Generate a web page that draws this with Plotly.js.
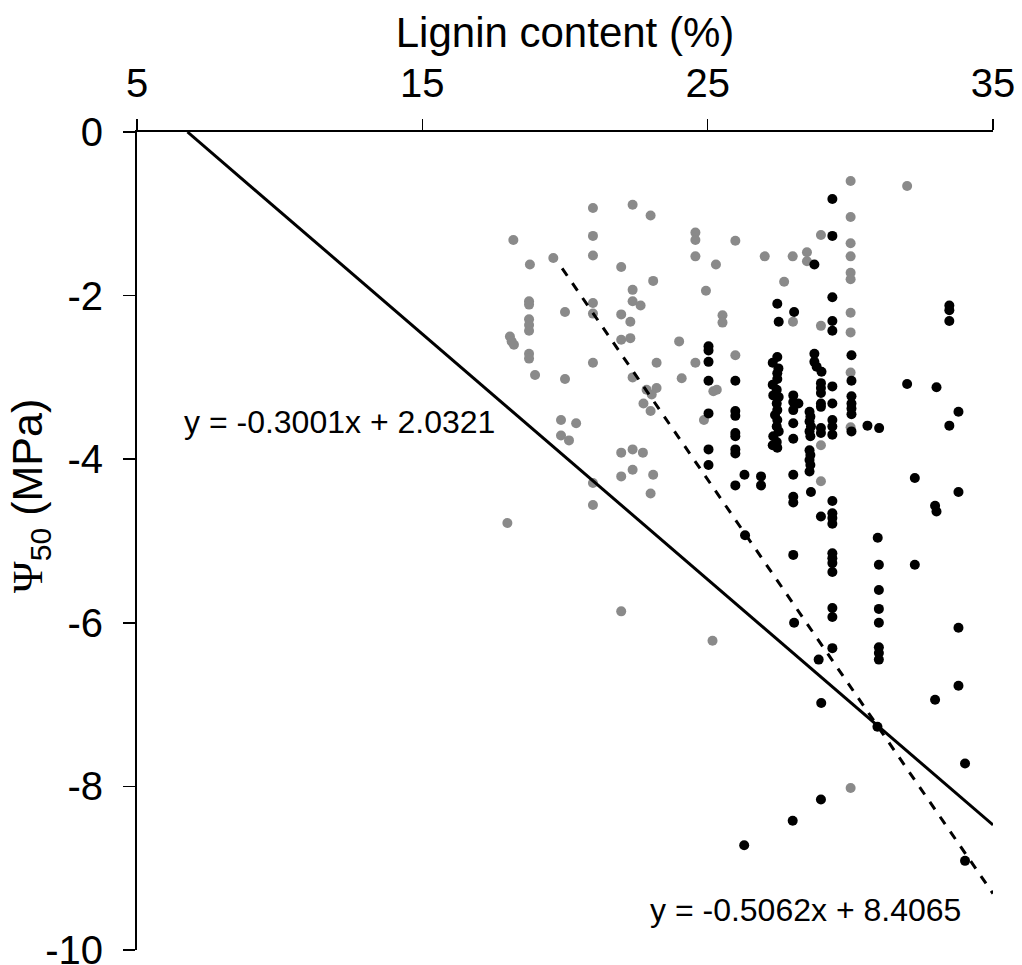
<!DOCTYPE html>
<html><head><meta charset="utf-8">
<script src="https://cdn.plot.ly/plotly-3.0.1.min.js"></script>
<style>html,body{margin:0;padding:0;background:#fff;}#chart{width:1022px;height:965px;}</style>
</head><body><div id="chart"></div>
<script>
// Group 1 (grey points)
const greyX = [20.98,22.37,23.0,18.19,20.98,20.98,19.59,18.77,21.97,23.09,22.37,22.37,22.65,20.98,18.74,18.74,20.0,20.98,21.97,22.29,18.74,18.74,18.74,18.07,18.13,18.21,21.97,22.29,18.74,18.74,20.98,23.21,18.95,20.0,22.37,23.21,22.86,23.04,22.75,23.0,19.86,20.39,19.86,20.14,21.97,22.37,22.73,21.97,22.37,23.09,23.0,20.98,20.98,17.98,21.97,25.17,24.57,24.57,25.97,24.57,25.29,27.0,27.98,28.48,28.48,28.97,24.94,27.68,25.52,25.52,27.99,28.97,24.0,25.97,24.57,24.09,25.2,25.32,24.87,28.97,28.97,30.01,31.99,30.01,30.01,30.01,30.01,30.01,30.01,30.01,30.01,30.01,30.01];
const greyY = [-0.93,-0.89,-1.02,-1.32,-1.27,-1.51,-1.54,-1.62,-1.65,-1.82,-1.93,-2.07,-2.12,-2.09,-2.07,-2.11,-2.20,-2.22,-2.23,-2.32,-2.29,-2.36,-2.43,-2.50,-2.56,-2.60,-2.54,-2.52,-2.71,-2.77,-2.82,-2.82,-2.97,-3.02,-3.0,-3.13,-3.15,-3.21,-3.32,-3.41,-3.52,-3.56,-3.71,-3.77,-3.92,-3.88,-3.92,-4.21,-4.13,-4.19,-4.42,-4.29,-4.56,-4.78,-5.86,-6.22,-1.23,-1.32,-1.33,-1.52,-1.62,-1.52,-1.52,-1.47,-1.58,-1.26,-1.94,-1.83,-2.24,-2.33,-2.32,-2.37,-2.56,-2.73,-2.82,-3.01,-3.17,-3.15,-3.52,-3.83,-4.27,-0.60,-0.66,-1.04,-1.36,-1.52,-1.72,-1.80,-2.21,-2.45,-2.94,-3.61,-8.02];
// Group 2 (black points)
const blackX = [29.37,29.37,28.74,29.37,27.44,28.03,27.49,29.37,29.37,25.03,25.03,25.03,28.74,28.74,28.82,28.99,25.03,25.97,25.03,25.97,25.97,25.97,25.97,25.97,25.97,25.03,25.03,26.29,25.97,26.87,26.87,27.44,27.28,27.48,27.44,27.44,27.28,27.42,27.3,27.49,27.42,27.44,27.36,27.44,27.42,27.49,27.3,27.42,27.28,27.44,28.0,28.0,28.18,28.0,28.0,28.0,28.0,28.0,28.0,28.57,28.6,28.57,28.62,28.57,28.6,28.57,28.6,28.57,28.6,28.57,28.62,28.97,28.97,28.97,28.97,28.97,28.97,28.97,28.97,29.37,29.37,29.37,29.37,29.37,29.37,29.37,29.37,29.37,29.37,29.37,29.37,29.37,29.37,29.37,29.37,30.04,30.04,30.04,30.04,30.04,30.04,30.04,30.6,31.01,31.99,33.02,33.79,33.47,33.47,33.47,33.47,32.26,33.79,32.97,33.02,30.96,31.0,32.26,31.0,31.0,31.0,33.79,31.0,31.0,31.0,33.79,32.97,30.95,34.02,28.97,27.98,26.28,34.02,26.31,28.0,28.03,28.89,28.98];
const blackY = [-0.82,-1.27,-1.62,-2.02,-2.10,-2.20,-2.32,-2.31,-2.43,-2.62,-2.67,-2.81,-2.71,-2.81,-2.87,-2.93,-3.04,-3.04,-3.44,-3.41,-3.47,-3.68,-3.72,-3.88,-3.93,-3.88,-4.07,-4.19,-4.32,-4.21,-4.32,-2.75,-2.82,-2.89,-2.95,-3.02,-3.09,-3.15,-3.22,-3.24,-3.32,-3.40,-3.46,-3.52,-3.60,-3.66,-3.72,-3.79,-3.83,-3.86,-3.22,-3.30,-3.32,-3.40,-3.56,-3.75,-4.19,-4.46,-4.53,-3.42,-3.48,-3.54,-3.60,-3.66,-3.72,-3.89,-3.95,-4.01,-4.07,-4.15,-4.40,-3.07,-3.13,-3.19,-3.32,-3.36,-3.62,-3.68,-4.70,-3.11,-3.32,-3.52,-3.60,-3.70,-4.51,-4.66,-4.72,-4.79,-5.15,-5.21,-5.27,-5.38,-5.82,-5.93,-6.31,-2.73,-3.04,-3.23,-3.32,-3.38,-3.45,-3.66,-3.59,-3.62,-3.08,-3.12,-3.42,-3.59,-2.12,-2.18,-2.31,-4.23,-4.40,-4.57,-4.64,-4.96,-5.29,-5.29,-5.60,-5.83,-6.0,-6.06,-6.30,-6.37,-6.45,-6.77,-6.94,-7.27,-7.72,-8.16,-8.42,-8.72,-8.91,-4.93,-5.17,-6.0,-6.45,-6.98];
// Fitted lines
const fitAll = {slope: -0.3001, intercept: 2.0321, xStart: 6.77, xEnd: 35};
const fitBlack = {slope: -0.5062, intercept: 8.4065, xStart: 19.9, xEnd: 35};
const eqAll = "y = -0.3001x + 2.0321";
const eqBlack = "y = -0.5062x + 8.4065";
const xTicks = [5, 15, 25, 35];
const yTicks = [0, -2, -4, -6, -8, -10];
const yTickText = ["0", "-2", "-4", "-6", "-8", "-10"];

function lineXY(f){ const xs=[f.xStart,f.xEnd]; return {x: xs, y: xs.map(v=>f.slope*v+f.intercept)}; }
const la = lineXY(fitAll), lb = lineXY(fitBlack);

const FONT = 'Arial, "Liberation Sans", sans-serif';
const traces = [
  {x: greyX, y: greyY, type:'scatter', mode:'markers', marker:{color:'#8a8a8a', size:10}, hoverinfo:'skip'},
  {x: blackX, y: blackY, type:'scatter', mode:'markers', marker:{color:'#000000', size:10}, hoverinfo:'skip'},
  {x: la.x, y: la.y, type:'scatter', mode:'lines', line:{color:'#000', width:3}},
  {x: lb.x, y: lb.y, type:'scatter', mode:'lines', line:{color:'#000', width:3, dash:'dash'}}
];
const layout = {
  width:1022, height:965, showlegend:false,
  paper_bgcolor:'#fff', plot_bgcolor:'#fff',
  margin:{l:137, r:29, t:132, b:15},
  font:{family:FONT, color:'#000'},
  xaxis:{side:'top', range:[5,35], tickvals:xTicks, ticks:'outside', ticklen:11, tickwidth:1.5, tickcolor:'#000',
    showline:true, linecolor:'#000', linewidth:2, showgrid:false, zeroline:false, ticklabelstandoff:6,
    tickfont:{size:40, family:FONT}, title:{text:'Lignin content (%)', font:{size:42, family:FONT}, standoff:0}},
  yaxis:{range:[-10,0], tickvals:yTicks, ticktext:yTickText, ticks:'outside', ticklen:12, tickwidth:1.5, tickcolor:'#000',
    showline:true, linecolor:'#000', linewidth:2, showgrid:false, zeroline:false, ticklabelstandoff:12,
    ticklabeloverflow:'allow', tickfont:{size:40, family:FONT}},
  annotations:[
    {x:-0.125, y:0.555, xref:'paper', yref:'paper', textangle:-90, showarrow:false, xanchor:'center', yanchor:'middle',
     text:'<span style="font-family:\'Liberation Serif\',\'Times New Roman\',serif">Ψ</span><sub>50</sub> (MPa)', font:{size:43, family:FONT}},
    {x:6.58, y:-3.55, xref:'x', yref:'y', text:eqAll, showarrow:false, xanchor:'left', yanchor:'middle', font:{size:32, family:FONT}},
    {x:22.91, y:-9.51, xref:'x', yref:'y', text:eqBlack, showarrow:false, xanchor:'left', yanchor:'middle', font:{size:32, family:FONT}}
  ]
};
Plotly.newPlot('chart', traces, layout, {displayModeBar:false, staticPlot:true});
</script></body></html>
